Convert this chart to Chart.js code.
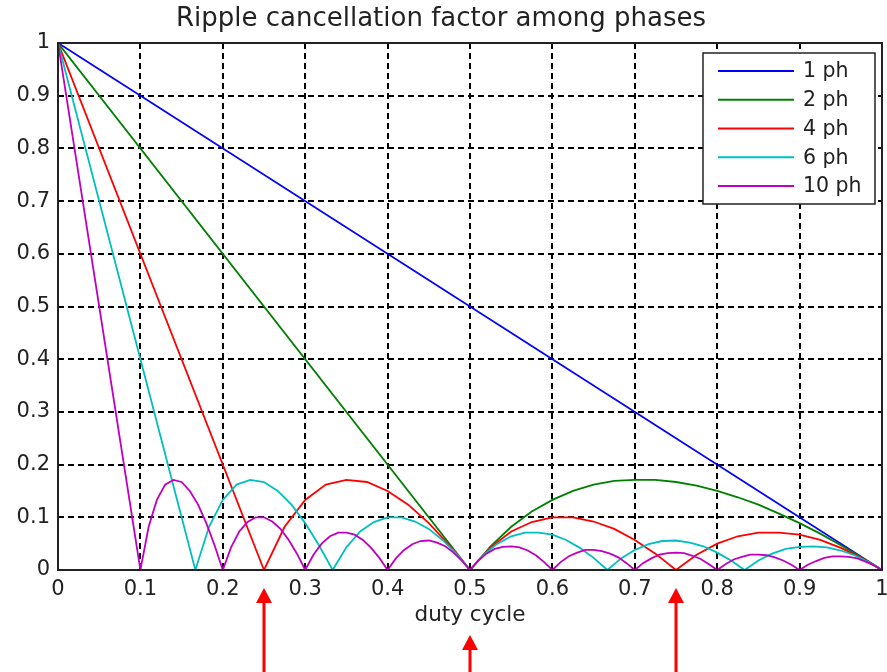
<!DOCTYPE html>
<html>
<head>
<meta charset="utf-8">
<title>Ripple cancellation factor among phases</title>
<script src="https://cdn.jsdelivr.net/npm/chart.js@4.4.1/dist/chart.umd.min.js"></script>
<style>
  html, body { margin: 0; padding: 0; background: #fff; }
  #wrap { width: 887px; height: 672px; }
</style>
</head>
<body>
<div id="wrap"><canvas id="ripple" width="887" height="672"></canvas></div>
<script>
// values (duty cycle -> cancellation factor)
const seriesNames = ["1 ph", "2 ph", "4 ph", "6 ph", "10 ph"];
const seriesColors = ["#0000ff", "#008000", "#ff0000", "#00bfbf", "#bf00bf"];

const ph1X = [0, 1];
const ph1Y = [1, 0];

const ph2X = [0, 0.5, 0.525, 0.55, 0.575, 0.6, 0.625, 0.65, 0.675, 0.7, 0.725, 0.75,
  0.775, 0.8, 0.825, 0.85, 0.875, 0.9, 0.925, 0.95, 0.975, 1];
const ph2Y = [1, 0, 0.045, 0.082, 0.111, 0.133, 0.15, 0.162, 0.169, 0.171, 0.171, 0.167,
  0.160, 0.15, 0.138, 0.124, 0.107, 0.089, 0.069, 0.047, 0.024, 0];

const ph4X = [0, 0.25, 0.275, 0.3, 0.325, 0.35, 0.375, 0.4, 0.425, 0.45, 0.475, 0.5,
  0.525, 0.55, 0.575, 0.6, 0.625, 0.65, 0.675, 0.7, 0.725, 0.75,
  0.775, 0.8, 0.825, 0.85, 0.875, 0.9, 0.925, 0.95, 0.975, 1];
const ph4Y = [1, 0, 0.082, 0.133, 0.162, 0.171, 0.167, 0.150, 0.124, 0.089, 0.047, 0,
  0.043, 0.073, 0.091, 0.100, 0.100, 0.092, 0.078, 0.057, 0.031, 0,
  0.029, 0.050, 0.064, 0.071, 0.071, 0.067, 0.057, 0.042, 0.023, 0];

const ph6X = [0, 0.1667, 0.1833, 0.2, 0.2167, 0.2333, 0.25, 0.2667, 0.2833, 0.3, 0.3167, 0.3333,
  0.35, 0.3667, 0.3833, 0.4, 0.4167, 0.4333, 0.45, 0.4667, 0.4833, 0.5,
  0.5167, 0.5333, 0.55, 0.5667, 0.5833, 0.6, 0.6167, 0.6333, 0.65, 0.6667,
  0.6833, 0.7, 0.7167, 0.7333, 0.75, 0.7667, 0.7833, 0.8, 0.8167, 0.8333,
  0.85, 0.8667, 0.8833, 0.9, 0.9167, 0.9333, 0.95, 0.9667, 0.9833, 1];
const ph6Y = [1, 0, 0.082, 0.133, 0.162, 0.171, 0.167, 0.150, 0.124, 0.089, 0.047, 0,
  0.043, 0.073, 0.091, 0.100, 0.100, 0.092, 0.078, 0.057, 0.031, 0,
  0.029, 0.050, 0.064, 0.071, 0.071, 0.067, 0.057, 0.042, 0.023, 0,
  0.022, 0.038, 0.049, 0.055, 0.056, 0.052, 0.045, 0.033, 0.018, 0,
  0.018, 0.031, 0.040, 0.044, 0.045, 0.043, 0.037, 0.028, 0.015, 0];

const ph10X = [0, 0.1, 0.11, 0.12, 0.13, 0.14, 0.15, 0.16, 0.17, 0.18, 0.19, 0.2,
  0.21, 0.22, 0.23, 0.24, 0.25, 0.26, 0.27, 0.28, 0.29, 0.3,
  0.31, 0.32, 0.33, 0.34, 0.35, 0.36, 0.37, 0.38, 0.39, 0.4,
  0.41, 0.42, 0.43, 0.44, 0.45, 0.46, 0.47, 0.48, 0.49, 0.5,
  0.51, 0.52, 0.53, 0.54, 0.55, 0.56, 0.57, 0.58, 0.59, 0.6,
  0.61, 0.62, 0.63, 0.64, 0.65, 0.66, 0.67, 0.68, 0.69, 0.7,
  0.71, 0.72, 0.73, 0.74, 0.75, 0.76, 0.77, 0.78, 0.79, 0.8,
  0.81, 0.82, 0.83, 0.84, 0.85, 0.86, 0.87, 0.88, 0.89, 0.9,
  0.91, 0.92, 0.93, 0.94, 0.95, 0.96, 0.97, 0.98, 0.99, 1];
const ph10Y = [1, 0, 0.082, 0.133, 0.162, 0.171, 0.167, 0.150, 0.124, 0.089, 0.047, 0,
  0.043, 0.073, 0.091, 0.100, 0.100, 0.092, 0.078, 0.057, 0.031, 0,
  0.029, 0.050, 0.064, 0.071, 0.071, 0.067, 0.057, 0.042, 0.023, 0,
  0.022, 0.038, 0.049, 0.055, 0.056, 0.052, 0.045, 0.033, 0.018, 0,
  0.018, 0.031, 0.040, 0.044, 0.045, 0.043, 0.037, 0.028, 0.015, 0,
  0.015, 0.026, 0.033, 0.038, 0.038, 0.036, 0.031, 0.024, 0.013, 0,
  0.013, 0.022, 0.029, 0.032, 0.033, 0.032, 0.027, 0.021, 0.011, 0,
  0.011, 0.020, 0.025, 0.029, 0.029, 0.028, 0.024, 0.018, 0.010, 0,
  0.010, 0.017, 0.023, 0.026, 0.026, 0.025, 0.022, 0.016, 0.009, 0];

const seriesX = [ph1X, ph2X, ph4X, ph6X, ph10X];
const seriesY = [ph1Y, ph2Y, ph4Y, ph6Y, ph10Y];

// duty cycles marked with red arrows under the axis
const arrowAt = [0.25, 0.5, 0.75];

Chart.defaults.font.family = "'DejaVu Sans', sans-serif";
Chart.defaults.color = "#222";

// axes box + legend drawn inside the plot, like the matlab figure
const boxLegend = {
  id: "boxLegend",
  afterDatasetsDraw(chart) {
    const { ctx, chartArea: a } = chart;
    ctx.save();
    ctx.strokeStyle = "#222";
    ctx.lineWidth = 2;
    ctx.strokeRect(a.left, a.top, a.right - a.left, a.bottom - a.top);

    const w = 172, h = 151;
    const bx = a.right - 7 - w, by = a.top + 10;
    ctx.fillStyle = "#fff";
    ctx.fillRect(bx, by, w, h);
    ctx.lineWidth = 1.5;
    ctx.strokeRect(bx, by, w, h);

    ctx.font = "20.5px 'DejaVu Sans'";
    ctx.textBaseline = "middle";
    ctx.textAlign = "left";
    chart.data.datasets.forEach((ds, i) => {
      const y = by + 18 + i * 28.75;
      ctx.strokeStyle = ds.borderColor;
      ctx.lineWidth = 1.8;
      ctx.beginPath();
      ctx.moveTo(bx + 15, y);
      ctx.lineTo(bx + 91, y);
      ctx.stroke();
      ctx.fillStyle = "#222";
      ctx.fillText(ds.label, bx + 100, y + 1);
    });
    ctx.restore();
  }
};

const redArrows = {
  id: "redArrows",
  afterDraw(chart, args, opts) {
    const { ctx, chartArea: a, scales } = chart;
    ctx.save();
    ctx.fillStyle = "#ff0000";
    arrowAt.forEach((v, i) => {
      const x = scales.x.getPixelForValue(v);
      const tip = a.bottom + opts.tipOffsets[i];
      ctx.beginPath();
      ctx.moveTo(x, tip);
      ctx.lineTo(x - 8, tip + 15);
      ctx.lineTo(x + 8, tip + 15);
      ctx.closePath();
      ctx.fill();
      ctx.fillRect(x - 1.5, tip + 12, 3, chart.height - tip - 12);
    });
    ctx.restore();
  }
};

const tickLabel = v => String(+(+v).toFixed(1));

new Chart(document.getElementById("ripple"), {
  type: "scatter",
  data: {
    datasets: seriesNames.map((name, i) => ({
      label: name,
      data: seriesX[i].map((x, k) => ({ x: x, y: seriesY[i][k] })),
      showLine: true,
      borderColor: seriesColors[i],
      backgroundColor: seriesColors[i],
      borderWidth: 1.8,
      pointRadius: 0,
      tension: 0,
      order: seriesNames.length - i
    }))
  },
  options: {
    responsive: false,
    animation: false,
    layout: { padding: { left: 0, right: 5, top: 0, bottom: 0 } },
    plugins: {
      legend: { display: false },
      tooltip: { enabled: false },
      title: {
        display: true,
        text: "Ripple cancellation factor among phases",
        color: "#222",
        font: { size: 26, weight: "normal" },
        padding: { top: 3.4, bottom: 8.4 }
      },
      redArrows: { tipOffsets: [18, 65, 18] }
    },
    scales: {
      x: {
        type: "linear",
        min: 0,
        max: 1,
        afterFit(scale) {
          scale.height = 102;
          scale.paddingLeft = 0;
          scale.paddingRight = 0;
        },
        border: { display: false, dash: [6, 4] },
        grid: { color: "#000", lineWidth: 2, drawTicks: false },
        ticks: {
          stepSize: 0.1,
          autoSkip: false,
          maxRotation: 0,
          padding: 7,
          font: { size: 21 },
          callback: tickLabel
        },
        title: {
          display: true,
          text: "duty cycle",
          font: { size: 21.5 },
          padding: { top: 0, bottom: 44 }
        }
      },
      y: {
        type: "linear",
        min: 0,
        max: 1,
        afterFit(scale) { scale.width = 58; },
        border: { display: false, dash: [6, 4] },
        grid: { color: "#000", lineWidth: 2, drawTicks: false },
        ticks: {
          stepSize: 0.1,
          autoSkip: false,
          padding: 8,
          font: { size: 21 },
          callback: tickLabel
        }
      }
    }
  },
  plugins: [boxLegend, redArrows]
});
</script>
</body>
</html>
